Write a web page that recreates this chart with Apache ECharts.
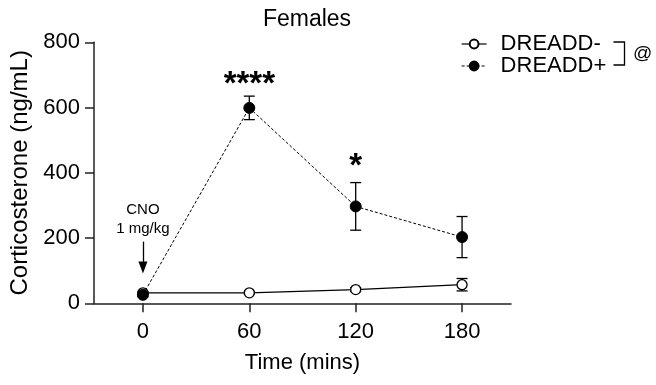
<!DOCTYPE html>
<html>
<head>
<meta charset="utf-8">
<script src="https://cdn.jsdelivr.net/npm/echarts@6/dist/echarts.min.js"></script>
<style>
  html, body { margin: 0; padding: 0; background: #fff; }
  #chart { width: 656px; height: 385px; }
</style>
</head>
<body>
<div id="chart"></div>
<script>
// time points (mins)
const times = [0, 60, 120, 180];
// DREADD- mean and SEM
const negMean = [32, 32, 42, 57];
const negErr = [4, 4, 6, 19];
// DREADD+ mean and SEM
const posMean = [26, 599, 297, 203];
const posErr = [6, 36, 73, 63];
// significance marks above DREADD+
const sigTimes = [60, 120];
const sigLabels = ['****', '*'];
const sigY = [668, 418];

function drawChart(target) {
    var chartDom = document.getElementById(target);
    var myChart = echarts.init(chartDom);
    const font = 'Liberation Sans, Arial, sans-serif';

    function errData(mean, err) {
        return times.map(function (t, i) {
            return [t, mean[i] - err[i], mean[i] + err[i]];
        });
    }

    function errRender(params, api) {
        const x = api.value(0);
        const lo = api.coord([x, api.value(1)]);
        const hi = api.coord([x, api.value(2)]);
        const w = 5.5;
        const style = { stroke: '#000', lineWidth: 1.3 };
        return {
            type: 'group',
            children: [
                { type: 'line', shape: { x1: lo[0], y1: lo[1], x2: hi[0], y2: hi[1] }, style: style },
                { type: 'line', shape: { x1: lo[0] - w, y1: lo[1], x2: lo[0] + w, y2: lo[1] }, style: style },
                { type: 'line', shape: { x1: hi[0] - w, y1: hi[1], x2: hi[0] + w, y2: hi[1] }, style: style }
            ]
        };
    }

    var option = {
        animation: false,
        textStyle: { fontFamily: font },
        title: {
            text: 'Females',
            left: 302,
            textAlign: 'center',
            top: 3,
            textStyle: { fontFamily: font, fontSize: 23, fontWeight: 'normal', color: '#000' }
        },
        legend: {
            left: 456,
            top: 28,
            orient: 'vertical',
            itemWidth: 25,
            itemHeight: 11,
            itemGap: 0,
            data: ['DREADD-', 'DREADD+'],
            lineStyle: { width: 1.2 },
            textStyle: { fontFamily: font, fontSize: 22, lineHeight: 22, color: '#000', padding: [0, 0, 0, 9] }
        },
        grid: { left: 94, top: 42.3, right: 145, bottom: 81.7 },
        xAxis: {
            type: 'value',
            min: -27.6,
            max: 207.6,
            name: 'Time (mins)',
            nameLocation: 'middle',
            nameGap: 49,
            nameTextStyle: { fontFamily: font, fontSize: 22, color: '#000' },
            splitLine: { show: false },
            axisLine: { onZero: false, lineStyle: { color: '#222', width: 1.5 } },
            axisTick: { length: 9, lineStyle: { color: '#222', width: 1.5 }, customValues: times },
            axisLabel: { fontFamily: font, fontSize: 22, color: '#000', margin: 18, customValues: times }
        },
        yAxis: {
            type: 'value',
            min: 0,
            max: 800,
            interval: 200,
            name: 'Corticosterone (ng/mL)',
            nameLocation: 'middle',
            nameGap: 53,
            nameTextStyle: { fontFamily: font, fontSize: 24, color: '#000' },
            splitLine: { show: false },
            axisLine: { show: true, onZero: false, lineStyle: { color: '#222', width: 1.5 } },
            axisTick: { show: true, length: 9, lineStyle: { color: '#222', width: 1.5 } },
            axisLabel: { fontFamily: font, fontSize: 22, color: '#000', margin: 14 }
        },
        graphic: [
            {
                type: 'polyline',
                shape: { points: [[613.5, 42], [624.5, 42], [624.5, 65], [613.5, 65]] },
                style: { stroke: '#000', lineWidth: 1.3, fill: null }
            },
            {
                type: 'text',
                x: 633,
                y: 54,
                style: { text: '@', fontFamily: font, fontSize: 19, fill: '#000', verticalAlign: 'middle' }
            }
        ],
        series: [
            {
                type: 'custom',
                renderItem: errRender,
                data: errData(negMean, negErr),
                z: 1,
                silent: true
            },
            {
                type: 'custom',
                renderItem: errRender,
                data: errData(posMean, posErr),
                z: 1,
                silent: true
            },
            {
                name: 'DREADD-',
                type: 'line',
                data: times.map(function (t, i) { return [t, negMean[i]]; }),
                symbol: 'circle',
                symbolSize: 10,
                lineStyle: { color: '#000', width: 1.2, type: 'solid' },
                itemStyle: { color: '#fff', borderColor: '#000', borderWidth: 1.3 },
                z: 3
            },
            {
                name: 'DREADD+',
                type: 'line',
                data: times.map(function (t, i) { return [t, posMean[i]]; }),
                symbol: 'circle',
                symbolSize: 11,
                lineStyle: { color: '#000', width: 1, type: [3, 2] },
                itemStyle: { color: '#000', borderColor: '#000', borderWidth: 1 },
                z: 4,
                markPoint: {
                    symbol: 'circle',
                    symbolSize: 0,
                    label: {
                        show: true,
                        position: 'inside',
                        fontFamily: font,
                        fontSize: 33,
                        fontWeight: 'bold',
                        color: '#000',
                        formatter: function (p) { return p.name; }
                    },
                    data: sigTimes.map(function (t, i) {
                        return { name: sigLabels[i], coord: [t, sigY[i]] };
                    })
                },
                markLine: {
                    silent: true,
                    symbol: ['none', 'triangle'],
                    symbolSize: [9, 12],
                    lineStyle: { color: '#000', width: 1.3, type: 'solid' },
                    label: { show: false },
                    data: [[{ coord: [0, 189] }, { coord: [0, 110] }]]
                }
            },
            {
                type: 'scatter',
                data: [[0, 0]],
                symbolSize: 0,
                silent: true,
                markPoint: {
                    symbol: 'circle',
                    symbolSize: 0,
                    label: {
                        show: true,
                        position: 'inside',
                        fontFamily: font,
                        fontSize: 15,
                        color: '#000',
                        lineHeight: 19,
                        formatter: 'CNO\n1 mg/kg'
                    },
                    data: [{ coord: [0, 258] }]
                }
            }
        ]
    };
    myChart.setOption(option);
}

drawChart('chart');
</script>
</body>
</html>
